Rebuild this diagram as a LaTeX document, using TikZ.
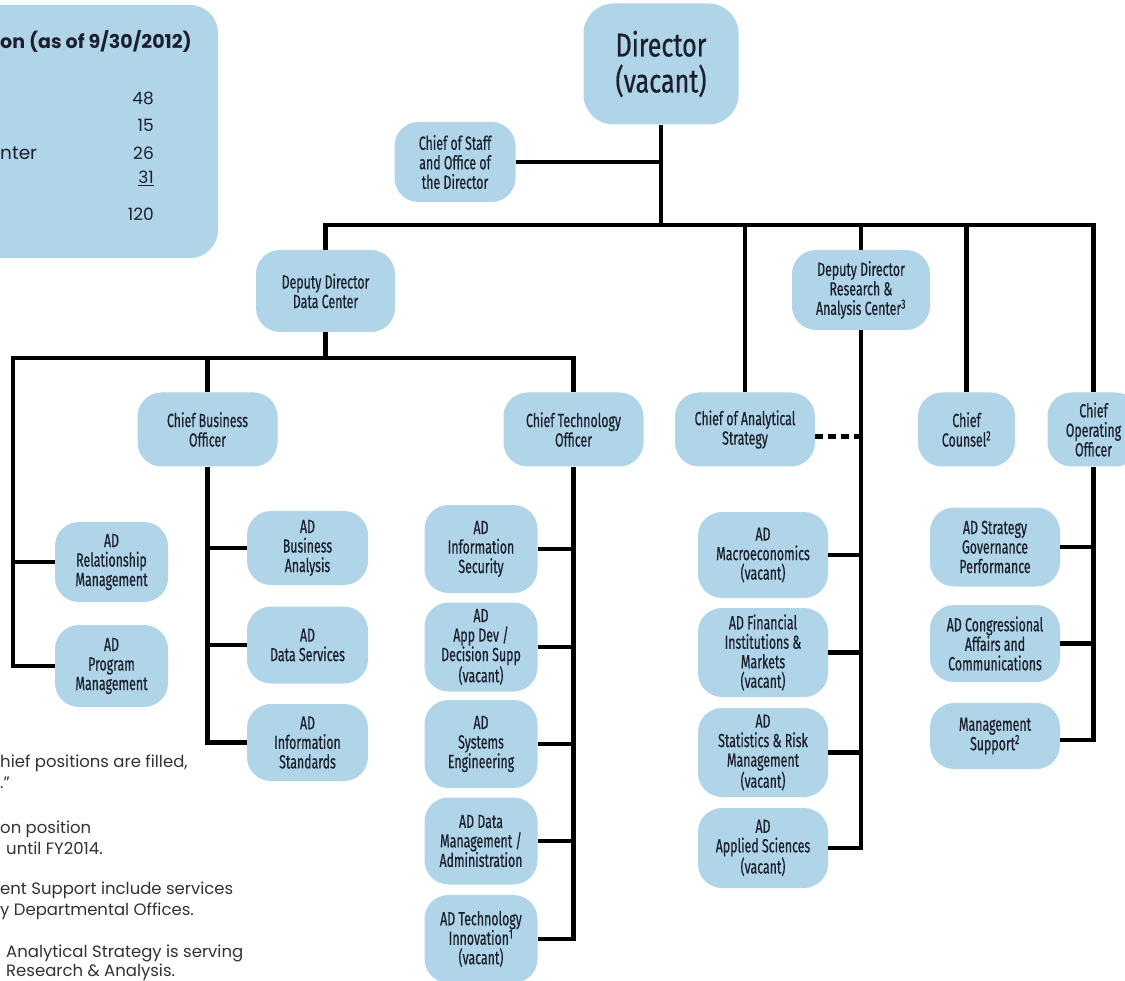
\documentclass[tikz,border=0pt]{standalone}
\usepackage{fontspec}
\setmainfont{Poppins}
\newfontfamily\condf[FakeStretch=0.65,FakeBold=0.6]{Fira Sans}
\newfontfamily\condbig[FakeStretch=0.76,FakeBold=0.6]{Fira Sans}
\definecolor{boxblue}{RGB}{176,213,233}
\definecolor{ink}{RGB}{28,32,45}
\definecolor{notegray}{RGB}{50,50,50}
\begin{document}
\begin{tikzpicture}[x=1pt,y=-1pt,
  box/.style={fill=boxblue, rounded corners=24pt, inner sep=0pt, align=center, text=ink,
    font=\condf\fontsize{19}{19.5}\selectfont},
  bigbox/.style={box, rounded corners=30pt, font=\condbig\fontsize{33}{36}\selectfont},
  wire/.style={line width=4.5pt, black},
  dashwire/.style={wire, dash pattern=on 8pt off 5pt},
  note/.style={anchor=base west, inner sep=0pt, text=notegray, font=\fontsize{16.5}{18}\selectfont},
  tab/.style={anchor=base east, inner sep=0pt, text=ink, font=\fontsize{17}{18}\selectfont},
  tabl/.style={tab, anchor=base west}]
\useasboundingbox (0,0) rectangle (1125,981);
\clip (0,0) rectangle (1125,981);

% table box (cut off at the left)
\fill[boxblue, rounded corners=28pt] (-60,5) rectangle (218,258);
\node[tabl, font=\bfseries\fontsize{19}{20}\selectfont] (ttl) at (0,49) {on (as of 9/30/2012)};
\node[tab] (n48) at (154,105) {48};
\node[tab] (n15) at (154,132) {15};
\node[tabl, font=\fontsize{18.5}{20}\selectfont] (nter) at (0,160) {nter};
\node[tab] (n26) at (154,160) {26};
\node[tab] (n31) at (154,184) {\underline{31}};
\node[tab] (n120) at (154,221) {120};

% footnotes (cut off at the left)
\node[note] (f1) at (0,767) {hief positions are filled,};
\node[note] (f2) at (0,788) {.”};
\node[note] (f3) at (0,833) {on position};
\node[note] (f4) at (6,854) {until FY2014.};
\node[note] (f5) at (0,894) {ent Support include services};
\node[note] (f6) at (0,915) {y Departmental Offices.};
\node[note] (f7) at (6,957) {Analytical Strategy is serving};
\node[note] (f8) at (6,976) {Research \& Analysis.};

% top level
\node[bigbox, minimum width=155pt, minimum height=121pt] (dir) at (661,64) {Director\\(vacant)};
\node[box, minimum width=121pt, minimum height=80pt] (cos) at (455,162) {Chief of Staff\\and Office of\\the Director};
\node[box, minimum width=139pt, minimum height=82pt] (dddc) at (325.5,291) {Deputy Director\\Data Center};
\node[box, minimum width=138pt, minimum height=80pt] (ddra) at (861,290) {Deputy Director\\Research \&\\Analysis Center\textsuperscript{3}};
\node[box, minimum width=140pt, minimum height=74pt] (cbo) at (207.5,429.5) {Chief Business\\Officer};
\node[box, minimum width=140pt, minimum height=74pt] (cto) at (573.5,429.5) {Chief Technology\\Officer};
\node[box, minimum width=140pt, minimum height=74pt] (cas) at (745,429.5) {Chief of Analytical\\Strategy};
\node[box, minimum width=97pt, minimum height=74pt] (cc) at (966.5,429.5) {Chief\\Counsel\textsuperscript{2}};
\node[box, minimum width=92pt, minimum height=74pt] (coo) at (1093.5,429.5) {Chief\\Operating\\Officer};

% left group
\node[box, minimum width=113pt, minimum height=80pt] (adrm) at (111.5,562) {AD\\Relationship\\Management};
\node[box, minimum width=113pt, minimum height=82pt] (adpm) at (111.5,666) {AD\\Program\\Management};

% business
\node[box, minimum width=121pt, minimum height=74pt] (adba) at (307.5,548) {AD\\Business\\Analysis};
\node[box, minimum width=121pt, minimum height=77pt] (adds) at (307.5,645) {AD\\Data Services};
\node[box, minimum width=121pt, minimum height=77pt] (adinfs) at (307.5,742.5) {AD\\Information\\Standards};

% technology
\node[box, minimum width=113pt, minimum height=88pt] (adis) at (481,549) {AD\\Information\\Security};
\node[box, minimum width=113pt, minimum height=89pt] (adad) at (481,647) {AD\\App Dev /\\Decision Supp\\(vacant)};
\node[box, minimum width=113pt, minimum height=88pt] (adse) at (481,744) {AD\\Systems\\Engineering};
\node[box, minimum width=113pt, minimum height=87pt] (addm) at (481,841) {AD Data\\Management /\\Administration};
\node[box, minimum width=113pt, minimum height=88pt] (adti) at (481,939) {AD Technology\\Innovation\textsuperscript{1}\\(vacant)};

% research
\node[box, minimum width=130pt, minimum height=86pt] (adme) at (763,555) {AD\\Macroeconomics\\(vacant)};
\node[box, minimum width=130pt, minimum height=89pt] (adfi) at (763,652.5) {AD Financial\\Institutions \&\\Markets\\(vacant)};
\node[box, minimum width=130pt, minimum height=89pt] (adsr) at (763,752.5) {AD\\Statistics \& Risk\\Management\\(vacant)};
\node[box, minimum width=130pt, minimum height=80pt] (adas) at (763,848) {AD\\Applied Sciences\\(vacant)};

% operations
\node[box, minimum width=130pt, minimum height=79pt] (adsg) at (995,547) {AD Strategy\\Governance\\Performance};
\node[box, minimum width=130pt, minimum height=77pt] (adca) at (995,643.5) {AD Congressional\\Affairs and\\Communications};
\node[box, minimum width=130pt, minimum height=66pt] (msup) at (995,736) {Management\\Support\textsuperscript{2}};

% connectors
\coordinate (busA) at (661,225);
\coordinate (busB) at (325.5,358);
\coordinate (lft) at (13,358);

\draw[wire] (dir.south) -- (dir.south |- busA);
\draw[wire] (cos.east) -- (cos.east -| dir.south);
\draw[wire] (dddc.north) |- (busA) -| (coo.north);
\draw[wire] (cas.north) -- (cas.north |- busA);
\draw[wire] (ddra.north) -- (ddra.north |- busA);
\draw[wire] (cc.north) -- (cc.north |- busA);

\draw[wire] (dddc.south) -- (busB);
\draw[wire] (cto.north) |- (lft) |- (adpm.west);
\draw[wire] (cbo.north) -- (cbo.north |- busB);
\draw[wire] (adrm.west) -- (adrm.west -| lft);

\draw[wire] (cbo.south) |- (adinfs.west);
\draw[wire] (adba.west) -- (adba.west -| cbo.south);
\draw[wire] (adds.west) -- (adds.west -| cbo.south);

\draw[wire] (cto.south) |- (adti.east);
\draw[wire] (adis.east) -- (adis.east -| cto.south);
\draw[wire] (adad.east) -- (adad.east -| cto.south);
\draw[wire] (adse.east) -- (adse.east -| cto.south);
\draw[wire] (addm.east) -- (addm.east -| cto.south);

\draw[wire] (ddra.south) |- (adas.east);
\draw[wire] (adme.east) -- (adme.east -| ddra.south);
\draw[wire] (adfi.east) -- (adfi.east -| ddra.south);
\draw[wire] (adsr.east) -- (adsr.east -| ddra.south);
\draw[dashwire] ([yshift=-7pt]cas.east) -- ([yshift=-7pt]cas.east -| ddra.south);

\draw[wire] (coo.south) |- ([yshift=-4pt]msup.east);
\draw[wire] (adsg.east) -- (adsg.east -| coo.south);
\draw[wire] (adca.east) -- (adca.east -| coo.south);
\end{tikzpicture}
\end{document}
